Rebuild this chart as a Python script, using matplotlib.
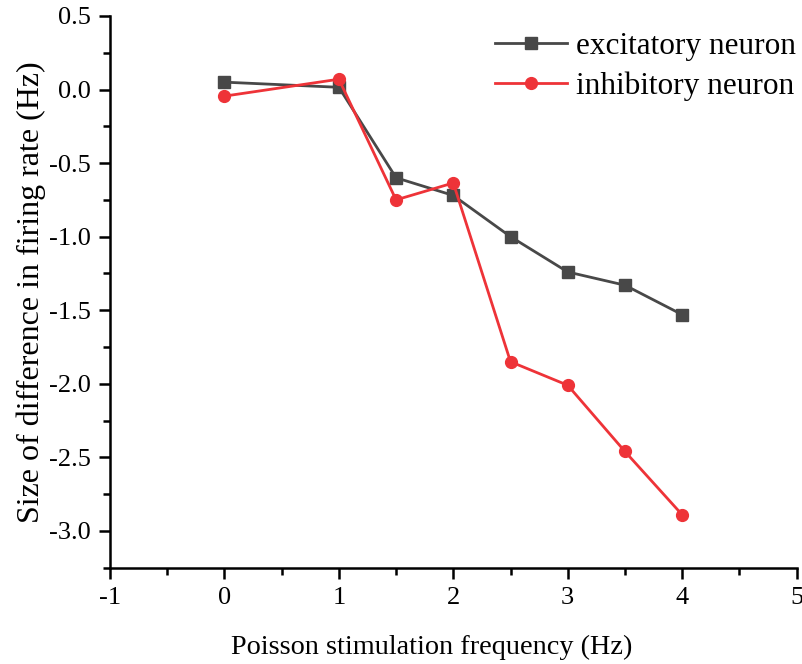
import matplotlib
matplotlib.use('Agg')
import matplotlib.pyplot as plt
from matplotlib.ticker import MultipleLocator, FuncFormatter

# values
freq = [0, 1, 1.5, 2, 2.5, 3, 3.5, 4]
excitatory = [0.05, 0.015, -0.60, -0.72, -1.00, -1.24, -1.33, -1.53]
inhibitory = [-0.045, 0.07, -0.75, -0.635, -1.85, -2.01, -2.46, -2.89]

plt.rcParams['font.family'] = ['Liberation Serif', 'DejaVu Serif']

fig = plt.figure(figsize=(8.03, 6.64), dpi=100)
ax = fig.add_axes([0.137, 0.145, 0.855, 0.831])

ax.plot(freq, excitatory, color='#484848', marker='s', markersize=8, linewidth=2,
        label='excitatory neuron')
ax.plot(freq, inhibitory, color='#ee3338', marker='o', markersize=8.5, linewidth=2,
        label='inhibitory neuron')

ax.set_xlim(-1, 5)
ax.set_ylim(-3.25, 0.5)
ax.xaxis.set_major_locator(MultipleLocator(1))
ax.xaxis.set_minor_locator(MultipleLocator(0.5))
ax.yaxis.set_major_locator(MultipleLocator(0.5))
ax.yaxis.set_minor_locator(MultipleLocator(0.25))

for side in ['top', 'right']:
    ax.spines[side].set_visible(False)
for side in ['left', 'bottom']:
    ax.spines[side].set_linewidth(1.8)

ax.tick_params(which='major', direction='out', length=8, width=1.8, labelsize=19, pad=6)
ax.tick_params(which='minor', direction='out', length=5, width=1.8)
# plain hyphen minus, like the original
ax.xaxis.set_major_formatter(FuncFormatter(lambda v, p: f'{v:.0f}'))
ax.yaxis.set_major_formatter(FuncFormatter(lambda v, p: f'{v:.1f}'))

ax.set_xlabel('Poisson stimulation frequency (Hz)', fontsize=20.3)
ax.xaxis.set_label_coords(0.469, -0.122)
ax.set_ylabel('Size of difference in firing rate (Hz)', fontsize=23, labelpad=2)

ax.legend(loc='upper right', frameon=False, fontsize=22.5, handlelength=2.3,
          borderaxespad=0.1, handletextpad=0.3, labelspacing=0.35,
          bbox_to_anchor=(1.022, 1.0))

fig.savefig('out.png', dpi=100)
